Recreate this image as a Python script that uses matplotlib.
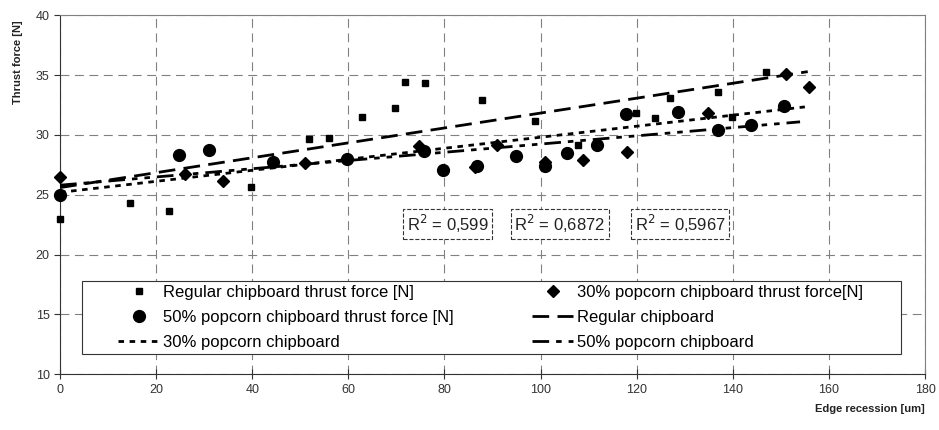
import numpy as np
import matplotlib
matplotlib.use('Agg')
import matplotlib.pyplot as plt
from matplotlib.patches import Rectangle

plt.rcParams['font.family'] = ['Liberation Sans', 'DejaVu Sans']

# Regular chipboard thrust force
reg_x = [0, 14.6, 22.7, 39.7, 51.8, 56.0, 62.9, 69.7, 71.8, 75.9, 87.8, 98.8,
         107.8, 119.8, 123.8, 126.9, 136.9, 139.8, 146.9]
reg_y = [23.0, 24.3, 23.6, 25.65, 29.7, 29.75, 31.5, 32.25, 34.45, 34.35, 32.9,
         31.15, 29.15, 31.85, 31.45, 33.1, 33.6, 31.5, 35.3]

# 30% popcorn chipboard thrust force
p30_x = [0, 26.0, 34.0, 51.0, 74.7, 86.4, 90.9, 100.9, 108.8, 118.0, 134.8,
         151.0, 155.8]
p30_y = [26.5, 26.75, 26.15, 27.65, 29.1, 27.3, 29.2, 27.75, 27.9, 28.55, 31.85,
         35.1, 34.0]

# 50% popcorn chipboard thrust force
p50_x = [0, 24.8, 31.0, 44.3, 59.8, 75.7, 79.7, 86.7, 94.9, 100.9, 105.6, 111.7,
         117.8, 128.6, 136.9, 143.8, 150.6]
p50_y = [25.0, 28.35, 28.75, 27.75, 27.95, 28.7, 27.05, 27.4, 28.25, 27.4, 28.5,
         29.15, 31.75, 31.95, 30.4, 30.85, 32.45]

# trend lines (start / end)
reg_trend_x = [0, 155.6]
reg_trend_y = [25.6, 35.3]
p30_trend_x = [0, 155.0]
p30_trend_y = [25.2, 32.35]
p50_trend_x = [0, 154.0]
p50_trend_y = [25.8, 31.1]

r2_labels = ['0,599', '0,6872', '0,5967']
r2_x = [80.7, 104.0, 129.0]
r2_y = 22.55

fig = plt.figure(figsize=(9.39, 4.30), dpi=100)
ax = fig.add_axes([0.0639, 0.1302, 0.9212, 0.8338])

ax.set_axisbelow(True)
ax.grid(True, color='#808080', linestyle=(0, (8, 5)), linewidth=0.8)

h_reg, = ax.plot(reg_x, reg_y, 's', color='black', markersize=4.5, linestyle='none',
                 label='Regular chipboard thrust force [N]', zorder=3, clip_on=False)
h_p30, = ax.plot(p30_x, p30_y, 'D', color='black', markersize=6.5, linestyle='none',
                 label='30% popcorn chipboard thrust force[N]', zorder=3, clip_on=False)
h_p50, = ax.plot(p50_x, p50_y, 'o', color='black', markersize=8.5, linestyle='none',
                 label='50% popcorn chipboard thrust force [N]', zorder=3, clip_on=False)

l_reg, = ax.plot(reg_trend_x, reg_trend_y, color='black', linewidth=2,
                 linestyle=(0, (6, 3)), label='Regular chipboard', zorder=3)
l_p30, = ax.plot(p30_trend_x, p30_trend_y, color='black', linewidth=2,
                 linestyle=(0, (2, 2)), label='30% popcorn chipboard', zorder=3)
l_p50, = ax.plot(p50_trend_x, p50_trend_y, color='black', linewidth=2,
                 linestyle=(0, (6, 2.5, 2, 2.5, 2, 2.5)), label='50% popcorn chipboard', zorder=3)

for lab, xx in zip(r2_labels, r2_x):
    ax.text(xx, r2_y, r'R$^2$ = ' + lab, fontsize=12, ha='center', va='center',
            color='#222222', zorder=4,
            bbox=dict(boxstyle='square,pad=0.22', facecolor='white',
                      edgecolor='#333333', linestyle='--', linewidth=0.8))

ax.set_xlim(0, 180)
ax.set_ylim(10, 40)
ax.set_xticks(np.arange(0, 181, 20))
ax.set_yticks(np.arange(10, 41, 5))
ax.tick_params(axis='both', labelsize=9, colors='#333333')
ax.tick_params(axis='x', direction='inout', length=7, pad=4)
ax.tick_params(axis='y', direction='out', length=4)

for s in ['left', 'bottom']:
    ax.spines[s].set_color('#333333')
for s in ['top', 'right']:
    ax.spines[s].set_color('#808080')

# legend frame
ax.add_patch(Rectangle((0.0254, 0.0558), 0.9469, 0.2036, transform=ax.transAxes,
                       facecolor='white', edgecolor='#333333', linewidth=0.8, zorder=4))
leg = ax.legend(handles=[h_reg, h_p50, l_p30, h_p30, l_reg, l_p50], ncol=2,
                loc='center', mode='expand', bbox_to_anchor=(0.067, 0.0558, 0.861, 0.2036),
                frameon=False, fontsize=12, handlelength=2.5, handletextpad=0.2,
                labelspacing=0.6, borderpad=0, borderaxespad=0, numpoints=1)
leg.set_zorder(5)

fig.text(18 / 939, 1 - 62 / 430, 'Thrust force [N]', rotation=90, fontsize=8,
         fontweight='bold', ha='center', va='center', color='#222222')
fig.text(925 / 939, 1 - 409 / 430, 'Edge recession [um]', fontsize=8,
         fontweight='bold', ha='right', va='center', color='#222222')

fig.savefig('out.png', dpi=100)
